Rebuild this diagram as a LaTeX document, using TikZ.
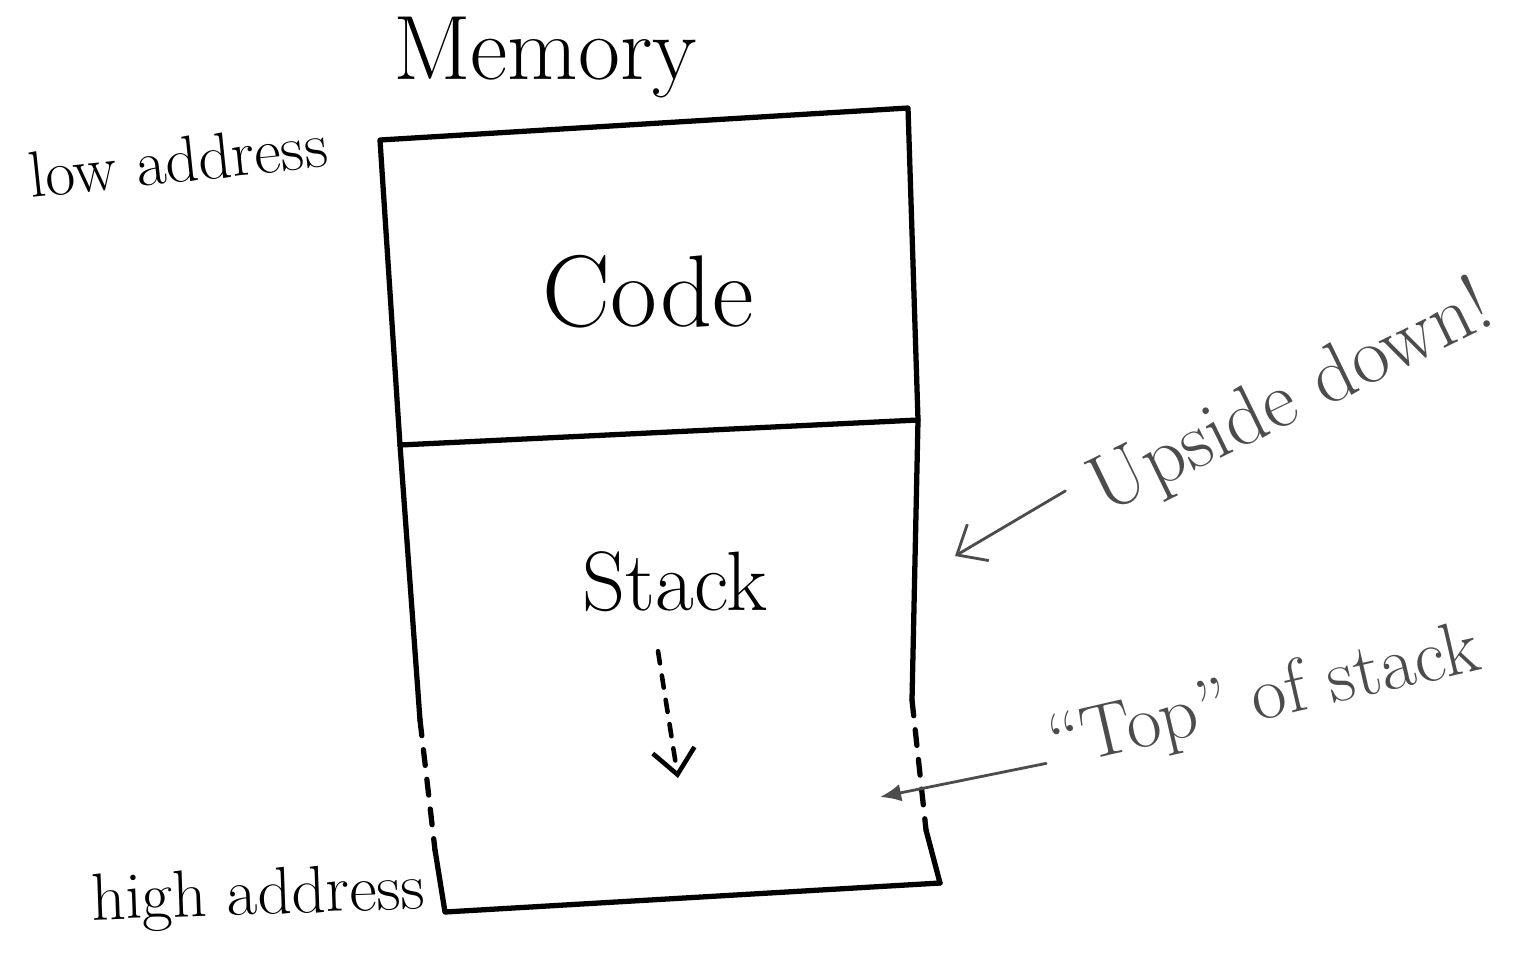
\documentclass[tikz,border=0pt]{standalone}
\usetikzlibrary{arrows.meta,positioning,calc}

\begin{document}
\begin{tikzpicture}[x=0.02cm,y=-0.02cm,
  wall/.style={line width=3pt,line cap=round,line join=round},
  gap/.style={line width=3pt,line cap=round,dash pattern=on 9pt off 8pt},
  note/.style={black!70,line width=1.6pt,line cap=round},
  hand/.style={inner sep=0pt}]
  \useasboundingbox (0,0) rectangle (1530,957);
  % corners of the memory box
  \coordinate (tl) at (380,140);  \coordinate (tr) at (908,108);
  \coordinate (ml) at (400,445);  \coordinate (mr) at (918,420);
  \coordinate (la) at (420,720);  \coordinate (lb) at (435,850);
  \coordinate (ra) at (912,700);  \coordinate (rb) at (926,830);
  \coordinate (bl) at (445,912);  \coordinate (br) at (940,883);

  \draw[wall] (ml) -- (tl) -- (tr) -- (mr) -- cycle;
  \draw[wall] (ml) -- (la);  \draw[gap] (la) -- (lb);  \draw[wall] (lb) -- (bl) -- (br);
  \draw[wall] (mr) -- (ra);  \draw[gap] (ra) -- (rb);  \draw[wall] (rb) -- (br);

  \node[hand] (mem) at (545,58) {\fontsize{52}{60}\selectfont Memory};
  \node[hand] (code) at (648,292) {\fontsize{58}{70}\selectfont Code};
  \node[hand] (stack) at (675,582) {\fontsize{48}{58}\selectfont Stack};
  \node[hand,rotate=6] (low) at (178,160) {\fontsize{37}{44}\selectfont low address};
  \node[hand,rotate=2] (high) at (258,898) {\fontsize{38}{44}\selectfont high address};

  \coordinate (grow) at (678,778);
  \draw[gap,line width=2.6pt,dash pattern=on 7pt off 7pt,-{Straight Barb[length=14pt,width=24pt]}]
    ([yshift=-22pt]stack.south west -| 658,640) -- (grow);

  \node[hand,black!70,rotate=26] (upside) at (1292,400) {\fontsize{46}{54}\selectfont Upside down!};
  \coordinate (upt) at (955,556);
  \draw[note,-{Straight Barb[length=14pt,width=24pt]}] (upside.west) ++(-30,-5) -- (upt);

  \node[hand,black!70,rotate=13] (top) at (1265,700) {\fontsize{43}{50}\selectfont ``Top'' of stack};
  \coordinate (tpt) at (880,797);
  \draw[note,-{Latex[length=12pt,width=10pt]}] (top.west) ++(-5,14) -- (tpt);
\end{tikzpicture}
\end{document}
